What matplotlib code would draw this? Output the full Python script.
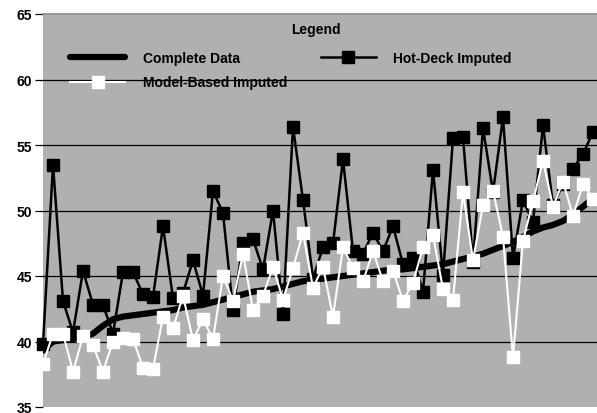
import matplotlib
matplotlib.use("Agg")
import matplotlib.pyplot as plt
import numpy as np

# Data
complete = [39.3, 40.0, 40.1, 40.2, 40.3, 40.6, 41.2, 41.7, 41.9, 42.0,
            42.1, 42.2, 42.3, 42.4, 42.6, 42.7, 42.8, 43.0, 43.2, 43.4,
            43.6, 43.8, 43.9, 44.0, 44.2, 44.4, 44.6, 44.7, 44.8, 44.9,
            45.0, 45.1, 45.2, 45.3, 45.4, 45.5, 45.5, 45.6, 45.7, 45.8,
            45.9, 46.1, 46.3, 46.5, 46.7, 47.0, 47.3, 47.6, 48.0, 48.4,
            48.7, 48.9, 49.2, 49.7, 50.3, 50.9]
hot_deck = [39.8, 53.5, 43.1, 40.7, 45.4, 42.8, 42.8, 40.6, 45.3, 45.3,
            43.6, 43.4, 48.8, 43.3, 43.7, 46.2, 43.5, 51.5, 49.8, 42.4,
            47.5, 47.8, 45.5, 50.0, 42.1, 56.4, 50.8, 44.8, 47.2, 47.5,
            53.9, 46.9, 46.7, 48.3, 46.9, 48.8, 45.9, 46.4, 43.8, 53.1,
            45.1, 55.5, 55.6, 46.1, 56.3, 51.4, 57.1, 46.4, 50.8, 49.1,
            56.5, 50.4, 52.0, 53.2, 54.3, 56.0]
model_based = [38.3, 40.6, 40.6, 37.7, 40.4, 39.7, 37.7, 40.0, 40.3, 40.2,
               38.0, 37.9, 41.9, 41.0, 43.5, 40.1, 41.7, 40.2, 45.0, 43.1,
               46.7, 42.4, 43.5, 45.7, 43.2, 45.6, 48.3, 44.1, 45.7, 41.9,
               47.2, 45.6, 44.6, 46.9, 44.6, 45.4, 43.1, 44.5, 47.2, 48.1,
               44.0, 43.2, 51.4, 46.2, 50.4, 51.5, 48.0, 38.8, 47.7, 50.7,
               53.8, 50.3, 52.2, 49.6, 52.0, 50.9]
labels = ["Complete Data", "Hot-Deck Imputed", "Model-Based Imputed"]
yticks = [35, 40, 45, 50, 55, 60, 65]

x_c = np.arange(len(complete))
x_h = np.arange(len(hot_deck))
x_m = np.arange(len(model_based))

fig = plt.figure(figsize=(5.97, 4.14), dpi=100)
ax = fig.add_axes([43/597, 6/414, 1 - 43/597, (408-15)/414])
ax.set_facecolor("#b0b0b0")

for v in [40, 45, 50, 55, 60]:
    ax.axhline(v, color="black", lw=0.9, zorder=1)

l1, = ax.plot(x_c, complete, color="black", lw=4.5, solid_capstyle="round", zorder=3)
l2, = ax.plot(x_h, hot_deck, color="black", lw=1.8, marker="s", ms=8.5,
              mfc="black", mec="black", zorder=4, clip_on=False)
l3, = ax.plot(x_m, model_based, color="white", lw=1.5, marker="s", ms=8.5,
              mfc="white", mec="white", zorder=5, clip_on=False)

ax.set_xlim(0, 55.4)
ax.set_ylim(35, 65)
ax.set_yticks(yticks)
ax.set_xticks([])
for s in ["left", "right", "bottom"]:
    ax.spines[s].set_visible(False)
ax.spines["top"].set_color("#8a8a8a")
ax.spines["top"].set_linewidth(1.2)
ax.tick_params(axis="y", direction="out", length=6, width=0.9, pad=2)
for t in ax.get_yticklabels():
    t.set_fontfamily("Liberation Sans")
    t.set_fontweight("bold")
    t.set_fontsize(10)

fp = {"family": "Liberation Sans", "weight": "bold", "size": 10}
leg = ax.legend([l1, l3, l2], [labels[0], labels[2], labels[1]], ncol=2,
                frameon=False, loc="center left",
                bbox_to_anchor=(0.026, 0.857), handlelength=4.0,
                handletextpad=1.25, columnspacing=2.4, labelspacing=0.75,
                prop=fp)
leg.set_zorder(6)
ax.text(0.493, 0.962, "Legend", transform=ax.transAxes, ha="center", va="center",
        fontfamily="Liberation Sans", fontweight="bold", fontsize=10, zorder=6)

fig.savefig("out.png", dpi=100)
